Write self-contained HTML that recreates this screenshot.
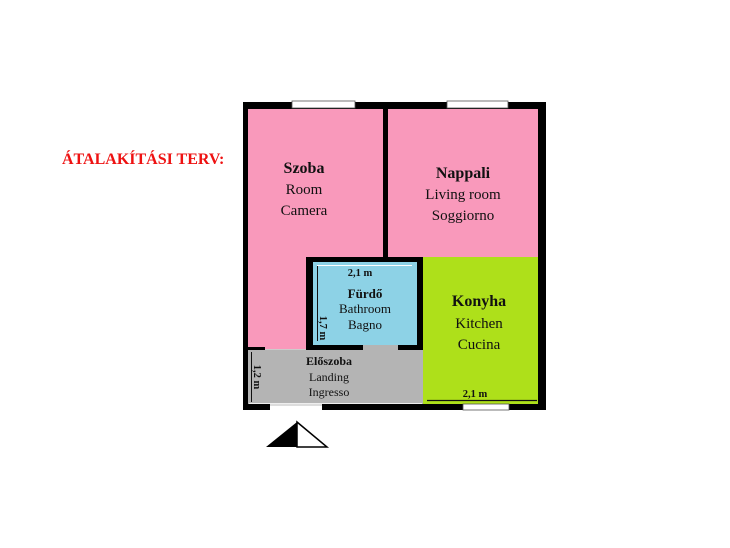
<!DOCTYPE html>
<html><head><meta charset="utf-8"><style>
html,body{margin:0;padding:0;background:#fff;width:730px;height:548px;overflow:hidden}
svg{display:block}
text{font-family:"Liberation Serif",serif;fill:#111}
</style></head><body>
<svg width="730" height="548" viewBox="0 0 730 548">
<text x="62" y="164" font-size="16" font-weight="bold" style="fill:#ee1111">ÁTALAKÍTÁSI TERV:</text>
<rect x="243" y="102" width="303" height="308" fill="#000"/>
<rect x="248" y="109" width="135" height="238" fill="#f999bb"/>
<rect x="388" y="109" width="150" height="148" fill="#f999bb"/>
<rect x="423" y="257" width="115" height="147" fill="#aee01a"/>
<rect x="248" y="350" width="175" height="54" fill="#b4b4b4"/>
<rect x="306" y="257" width="117" height="93" fill="#000"/>
<rect x="313" y="262" width="104" height="83" fill="#8dd2e6"/>
<rect x="265" y="346" width="41" height="4" fill="#f999bb"/>
<rect x="265" y="349" width="41" height="1" fill="#ccc"/>
<rect x="363" y="345" width="35" height="5" fill="#b4b4b4"/>
<line x1="317" y1="265.5" x2="412" y2="265.5" stroke="#fff" stroke-width="1"/>
<line x1="317.5" y1="266" x2="317.5" y2="341" stroke="#111" stroke-width="1"/>
<line x1="251.5" y1="352" x2="251.5" y2="402" stroke="#111" stroke-width="1"/>
<line x1="427" y1="400.5" x2="537" y2="400.5" stroke="#111" stroke-width="1.2"/>
<line x1="249" y1="403.5" x2="422" y2="403.5" stroke="#eee" stroke-width="1"/>
<rect x="292" y="101" width="63" height="7" fill="#fff" stroke="#555" stroke-width="0.8"/>
<rect x="447" y="101" width="61" height="7" fill="#fff" stroke="#555" stroke-width="0.8"/>
<rect x="463" y="404" width="46" height="6" fill="#fff" stroke="#555" stroke-width="0.8"/>
<rect x="270" y="404" width="52" height="7" fill="#fff"/>
<line x1="270" y1="405" x2="322" y2="405" stroke="#bbb" stroke-width="1"/>
<polygon points="297,422 266,447 297,447" fill="#000"/>
<polygon points="297,422 327,447 297,447" fill="#fff" stroke="#000" stroke-width="1.5"/>
<g text-anchor="middle">
<text x="304" y="173" font-size="16" font-weight="bold">Szoba</text>
<text x="304" y="194" font-size="15">Room</text>
<text x="304" y="215" font-size="15">Camera</text>
<text x="463" y="178" font-size="16" font-weight="bold">Nappali</text>
<text x="463" y="199" font-size="15">Living room</text>
<text x="463" y="220" font-size="15">Soggiorno</text>
<text x="360" y="276" font-size="10.5" font-weight="bold">2,1 m</text>
<text x="365" y="298" font-size="13" font-weight="bold">Fürdő</text>
<text x="365" y="313" font-size="13">Bathroom</text>
<text x="365" y="329" font-size="13">Bagno</text>
<text x="479" y="306" font-size="16" font-weight="bold">Konyha</text>
<text x="479" y="328" font-size="15">Kitchen</text>
<text x="479" y="349" font-size="15">Cucina</text>
<text x="329" y="365" font-size="12" font-weight="bold">Előszoba</text>
<text x="329" y="381" font-size="12">Landing</text>
<text x="329" y="396" font-size="12">Ingresso</text>
<text x="475" y="397" font-size="10.5" font-weight="bold">2,1 m</text>
<text transform="translate(320,328) rotate(90)" font-size="10.5" font-weight="bold">1,7 m</text>
<text transform="translate(254,377) rotate(90)" font-size="10.5" font-weight="bold">1,2 m</text>
</g>
</svg>
</body></html>
